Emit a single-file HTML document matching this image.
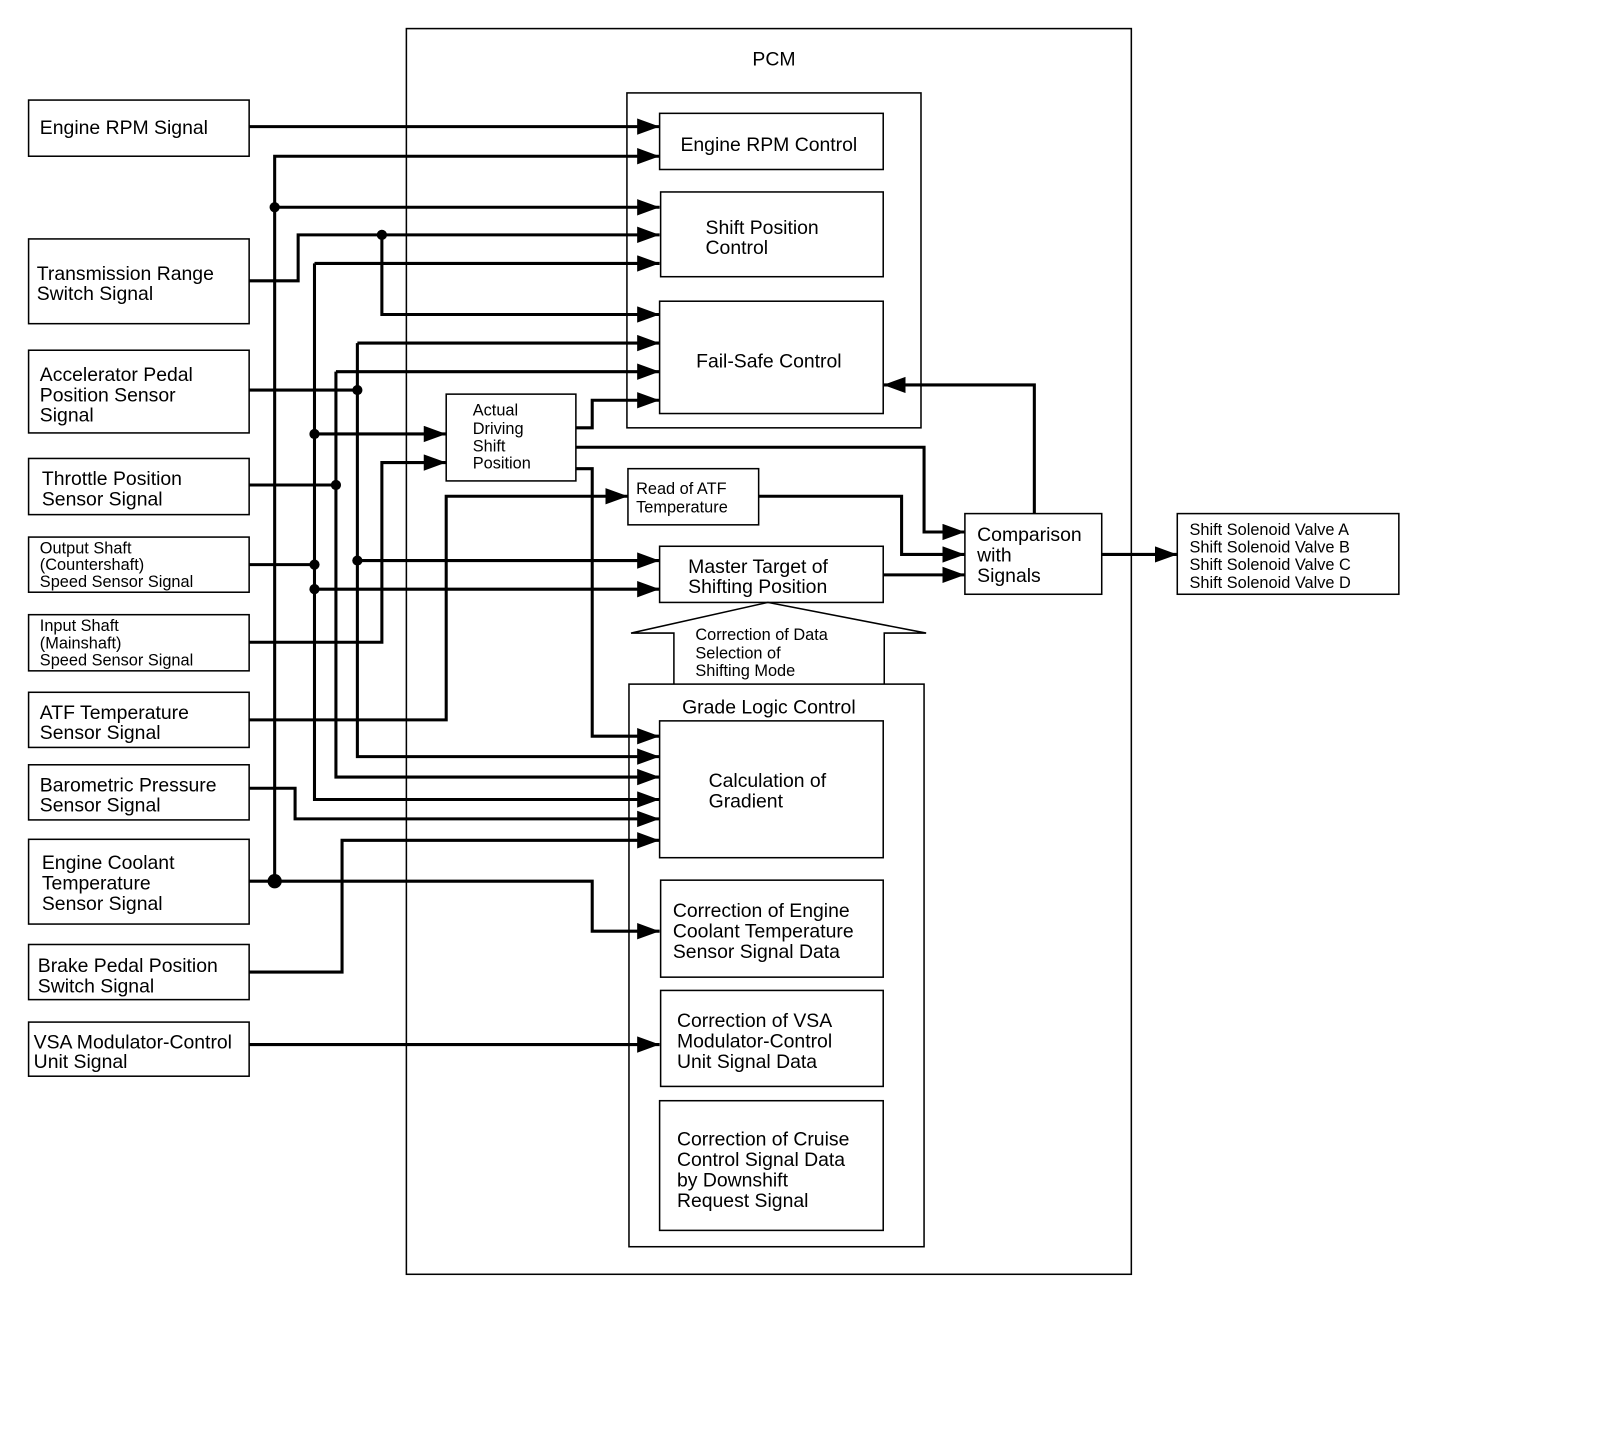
<!DOCTYPE html>
<html><head><meta charset="utf-8"><style>
html,body{margin:0;padding:0;background:#fff;}
svg{display:block;}
text{font-family:"Liberation Sans",sans-serif;fill:#000;}
</style></head><body>
<svg width="1600" height="1454" viewBox="0 0 1567 1424" preserveAspectRatio="none" xmlns="http://www.w3.org/2000/svg">
<defs>
<marker id="a" markerUnits="userSpaceOnUse" markerWidth="24" markerHeight="18" refX="22" refY="8" orient="auto">
<path d="M0,0 L22,8 L0,16 Z" fill="#000"/>
</marker>
</defs>
<g fill="none" stroke="#000" stroke-width="1.5">
<rect x="398" y="28" width="710" height="1220"/>
<rect x="614" y="91" width="288" height="328"/>
<rect x="646" y="111" width="219" height="55"/>
<rect x="647" y="188" width="218" height="83"/>
<rect x="646" y="295" width="219" height="110"/>
<rect x="437" y="386" width="127" height="85"/>
<rect x="615" y="459" width="128" height="55"/>
<rect x="646" y="535" width="219" height="55"/>
<rect x="945" y="503" width="134" height="79"/>
<rect x="1153" y="503" width="217" height="79"/>
<polyline points="660,670 660,620 618,620 752,590 907,620 866,620 866,670"/>
<rect x="616" y="670" width="289" height="551"/>
<rect x="646" y="706" width="219" height="134"/>
<rect x="647" y="862" width="218" height="95"/>
<rect x="647" y="970" width="218" height="94"/>
<rect x="646" y="1078" width="219" height="127"/>
<rect x="28" y="98" width="216" height="55"/>
<rect x="28" y="234" width="216" height="83"/>
<rect x="28" y="343" width="216" height="81"/>
<rect x="28" y="449" width="216" height="55"/>
<rect x="28" y="526" width="216" height="54"/>
<rect x="28" y="602" width="216" height="55"/>
<rect x="28" y="678" width="216" height="54"/>
<rect x="28" y="749" width="216" height="54"/>
<rect x="28" y="822" width="216" height="83"/>
<rect x="28" y="925" width="216" height="54"/>
<rect x="28" y="1001" width="216" height="53"/>
</g>
<g fill="none" stroke="#000" stroke-width="3">
<polyline points="244,124 646,124" marker-end="url(#a)"/>
<polyline points="269,863 269,153 646,153" marker-end="url(#a)"/>
<polyline points="269,203 646,203" marker-end="url(#a)"/>
<polyline points="244,863 580,863 580,912 646,912" marker-end="url(#a)"/>
<polyline points="244,275 292,275 292,230 646,230" marker-end="url(#a)"/>
<polyline points="374,230 374,308 646,308" marker-end="url(#a)"/>
<polyline points="308,258 646,258" marker-end="url(#a)"/>
<polyline points="308,258 308,783 646,783" marker-end="url(#a)"/>
<polyline points="308,425 437,425" marker-end="url(#a)"/>
<polyline points="244,553 308,553"/>
<polyline points="308,577 646,577" marker-end="url(#a)"/>
<polyline points="350,336 646,336" marker-end="url(#a)"/>
<polyline points="350,336 350,741 646,741" marker-end="url(#a)"/>
<polyline points="244,382 350,382"/>
<polyline points="350,549 646,549" marker-end="url(#a)"/>
<polyline points="329,364 646,364" marker-end="url(#a)"/>
<polyline points="329,364 329,761 646,761" marker-end="url(#a)"/>
<polyline points="244,475 329,475"/>
<polyline points="244,629 374,629 374,453 437,453" marker-end="url(#a)"/>
<polyline points="244,705 437,705 437,486 615,486" marker-end="url(#a)"/>
<polyline points="244,772 289,772 289,802 646,802" marker-end="url(#a)"/>
<polyline points="244,952 335,952 335,823 646,823" marker-end="url(#a)"/>
<polyline points="244,1023 646,1023" marker-end="url(#a)"/>
<polyline points="564,419 580,419 580,392 646,392" marker-end="url(#a)"/>
<polyline points="564,438 905,438 905,521 945,521" marker-end="url(#a)"/>
<polyline points="564,459 580,459 580,721 646,721" marker-end="url(#a)"/>
<polyline points="743,486 883,486 883,543 945,543" marker-end="url(#a)"/>
<polyline points="865,563 945,563" marker-end="url(#a)"/>
<polyline points="1013,503 1013,377 865,377" marker-end="url(#a)"/>
<polyline points="1079,543 1153,543" marker-end="url(#a)"/>
</g>
<g fill="#000">
<circle cx="269" cy="203" r="5"/>
<circle cx="269" cy="863" r="7"/>
<circle cx="374" cy="230" r="5"/>
<circle cx="308" cy="425" r="5"/>
<circle cx="308" cy="553" r="5"/>
<circle cx="308" cy="577" r="5"/>
<circle cx="350" cy="382" r="5"/>
<circle cx="350" cy="549" r="5"/>
<circle cx="329" cy="475" r="5"/>
</g>
<g font-size="19">
<text x="758" y="64" text-anchor="middle">PCM</text>
<text x="753" y="148" text-anchor="middle">Engine RPM Control</text>
<text x="691" y="229">Shift Position</text><text x="691" y="249">Control</text>
<text x="753" y="360" text-anchor="middle">Fail-Safe Control</text>
<text x="674" y="561">Master Target of</text><text x="674" y="581">Shifting Position</text>
<text x="957" y="530">Comparison</text><text x="957" y="550">with</text><text x="957" y="570">Signals</text>
<text x="753" y="699" text-anchor="middle">Grade Logic Control</text>
<text x="694" y="771">Calculation of</text><text x="694" y="791">Gradient</text>
<text x="659" y="898">Correction of Engine</text><text x="659" y="918">Coolant Temperature</text><text x="659" y="938">Sensor Signal Data</text>
<text x="663" y="1006">Correction of VSA</text><text x="663" y="1026">Modulator-Control</text><text x="663" y="1046">Unit Signal Data</text>
<text x="663" y="1122">Correction of Cruise</text><text x="663" y="1142">Control Signal Data</text><text x="663" y="1162">by Downshift</text><text x="663" y="1182">Request Signal</text>
<text x="39" y="131">Engine RPM Signal</text>
<text x="36" y="274">Transmission Range</text><text x="36" y="294">Switch Signal</text>
<text x="39" y="373">Accelerator Pedal</text><text x="39" y="393">Position Sensor</text><text x="39" y="413">Signal</text>
<text x="41" y="475">Throttle Position</text><text x="41" y="495">Sensor Signal</text>
<text x="39" y="704">ATF Temperature</text><text x="39" y="724">Sensor Signal</text>
<text x="39" y="775">Barometric Pressure</text><text x="39" y="795">Sensor Signal</text>
<text x="41" y="851">Engine Coolant</text><text x="41" y="871">Temperature</text><text x="41" y="891">Sensor Signal</text>
<text x="37" y="952">Brake Pedal Position</text><text x="37" y="972">Switch Signal</text>
<text x="33" y="1027">VSA Modulator-Control</text><text x="33" y="1046">Unit Signal</text>
</g>
<g font-size="16">
<text x="463" y="407">Actual</text><text x="463" y="425">Driving</text><text x="463" y="442">Shift</text><text x="463" y="459">Position</text>
<text x="623" y="484">Read of ATF</text><text x="623" y="502">Temperature</text>
<text x="681" y="627">Correction of Data</text><text x="681" y="645">Selection of</text><text x="681" y="662">Shifting Mode</text>
<text x="39" y="542">Output Shaft</text><text x="39" y="558">(Countershaft)</text><text x="39" y="575">Speed Sensor Signal</text>
<text x="39" y="618">Input Shaft</text><text x="39" y="635">(Mainshaft)</text><text x="39" y="652">Speed Sensor Signal</text>
<text x="1165" y="524">Shift Solenoid Valve A</text><text x="1165" y="541">Shift Solenoid Valve B</text><text x="1165" y="558">Shift Solenoid Valve C</text><text x="1165" y="576">Shift Solenoid Valve D</text>
</g>
</svg>
</body></html>
